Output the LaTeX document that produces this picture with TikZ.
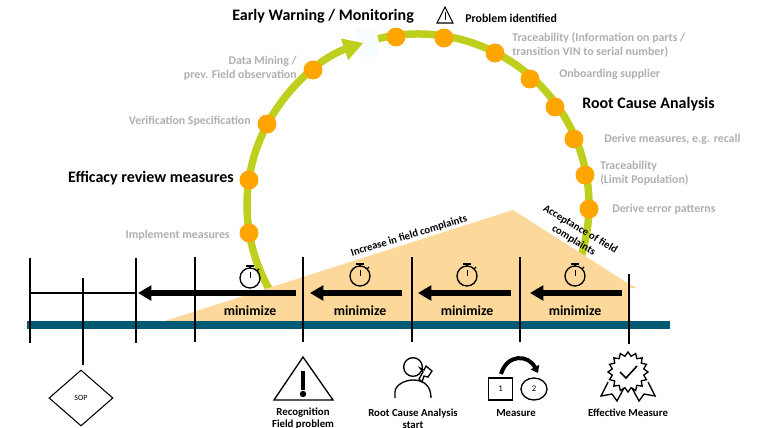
\documentclass[tikz,border=0pt]{standalone}
\usepackage{fontspec}
\setmainfont{Carlito}
\usetikzlibrary{arrows.meta,shapes.geometric}
\definecolor{arcgreen}{HTML}{BFCF1E}
\definecolor{dotorange}{HTML}{FFA500}
\definecolor{barteal}{HTML}{005A73}
\definecolor{wedge}{HTML}{FDD89B}
\definecolor{stepgray}{HTML}{AFAFAF}
\tikzset{
    dot/.style={circle, fill=dotorange, minimum size=14.2pt, inner sep=0pt},
    stepnote/.style={text=stepgray, font=\bfseries\fontsize{8.9}{10.4}\selectfont, align=left, inner sep=0pt},
    phase/.style={text=black, font=\bfseries\fontsize{12}{14}\selectfont, inner sep=0pt},
    caption/.style={font=\bfseries\fontsize{8.1}{9}\selectfont, align=center, inner sep=0pt},
    slope/.style={font=\bfseries\fontsize{8}{9.5}\selectfont, align=center, inner sep=0pt},
    mini/.style={font=\bfseries\fontsize{10.4}{11}\selectfont, inner sep=0pt},
    tick/.style={line width=1.5pt},
    push/.style={line width=3.8pt, -{Triangle[length=10pt,width=11pt]}},
    pics/watch/.style={code={
        \draw[line width=1pt] (0,0) circle[radius=7.5pt];
        \draw[line width=1pt] (0,-10) -- (0,-12);
        \draw[line width=1.2pt] (-4,-12) -- (4,-12);
        \draw[line width=.6pt] (0,0) -- (0,-6);
        \draw[line width=1pt] (7,-7) -- (9,-9);
    }}
}
\begin{document}
\begin{tikzpicture}[x=0.75pt, y=-0.75pt]
    \useasboundingbox (0,0) rectangle (760,428);
    \coordinate (c) at (418,205);
    % Loop
    \fill[blue!20!cyan!3] (356,29) rectangle (378,57);
    \draw[arcgreen, line width=5.6pt, -{Triangle[length=15pt,width=16pt]}]
        ([shift={(212:128.25pt)}]c) arc[start angle=212, end angle=108.6, radius=128.25pt];
    \draw[arcgreen, line width=5.6pt]
        ([shift={(103.5:128.25pt)}]c) arc[start angle=103.5, end angle=-25, radius=128.25pt];
    % Complaints wedge
    \fill[wedge] (165,321) -- (513,210) -- (629,284) -- (637,288) -- (630,288) -- (630,321) -- cycle;
    % Steps on the loop
    \foreach \name/\pos in {a/{249,233}, b/{249,180}, d/{267,124}, e/{313,70}, f/{396,37}, g/{444,38},
        h/{495,53}, i/{530,79}, j/{555,107}, k/{574,139}, l/{585,175}, m/{589,209}}
        \node[dot] (\name) at (\pos) {};
    % Time line
    \fill[barteal] (27,321) rectangle (670,329);
    \draw[tick] (30,258) -- (30,343);
    \draw[tick] (136,258) -- (136,343);
    \draw[tick] (195,257) -- (195,342);
    \draw[line width=1.1pt] (303,257) -- (303,342);
    \draw[tick] (412,257) -- (412,342);
    \draw[tick] (520,257) -- (520,342);
    \draw[tick] (629,274) -- (629,344);
    \draw[tick] (83,278) -- (83,365);
    \draw[tick] (30,293) -- (136,293);
    % Minimize arrows
    \foreach \from/\to in {296/138, 402/310, 511/418, 622/530}
        \draw[push] (\from,293) -- (\to,293);
    \foreach \x/\y in {250/278, 360/276, 467/276, 575/276}
        \pic at (\x,\y) {watch};
    \foreach \x in {250, 360, 467, 575}
        \node[mini] at (\x,311) {minimize};
    % Labels on the loop
    \node[phase, anchor=west] (early) at (232,16) {Early Warning / Monitoring};
    \node[phase, anchor=west] (root) at (582,104) {Root Cause Analysis};
    \node[phase, anchor=east] (efficacy) at (234,178) {Efficacy review measures};
    \node[stepnote, anchor=west] (trace) at (512,45) {Traceability (Information on parts /\\transition VIN to serial number)};
    \node[stepnote, anchor=west] (onboard) at (559,74) {Onboarding supplier};
    \node[stepnote, anchor=west] (recall) at (604,139) {Derive measures, e.g. recall};
    \node[stepnote, anchor=west] (limit) at (600,173) {Traceability\\(Limit Population)};
    \node[stepnote, anchor=west] (errors) at (612,209) {Derive error patterns};
    \node[stepnote, anchor=east, align=right] (mining) at (297,68) {Data Mining /\\prev. Field observation};
    \node[stepnote, anchor=east] (verify) at (251,121) {Verification Specification};
    \node[stepnote, anchor=east] (implement) at (230,235) {Implement measures};
    % Problem identified
    \draw[line width=.8pt, line join=miter] (437,23) -- (445,7) -- (453,23) -- cycle;
    \draw[line width=.6pt] (445,12) -- (445,20);
    \node[caption, font=\bfseries\fontsize{8.9}{10}\selectfont, anchor=west] (problem) at (465,18) {Problem identified};
    % Slope labels
    \node[slope, rotate=17] (increase) at (409,236) {Increase in field complaints};
    \node[slope, rotate=-31] (accept) at (577,235) {Acceptance of field\\complaints};
    % SOP
    \node[diamond, draw, line width=.8pt, minimum width=48pt, minimum height=42pt, inner sep=0pt, font=\fontsize{6}{7}\selectfont] (sop) at (81,398) {SOP};
    % Recognition
    \draw[line width=1pt] (274,400) -- (303,357) -- (333,400) -- cycle;
    \draw[line width=3pt] (303,371) -- (303,390);
    \fill (303,394) circle[radius=2.4pt];
    \node[caption] (recog) at (303,419) {Recognition\\Field problem};
    % Root cause start
    \draw[line width=1pt] (413,367) circle[radius=7pt];
    \draw[line width=1pt] (395,398) -- (395,392) .. controls (395,385) and (405,380) .. (413,380) .. controls (424,380) and (431,386) .. (431,398);
    \draw[line width=1pt, fill=white] (419,379) -- (423,372) -- (420,368) -- (424,370) -- (426,366) -- (432,371) -- (428,377) -- (424,376) -- (422,382) -- cycle;
    \node[caption] (start) at (413,418.5) {Root Cause Analysis\\start};
    % Measure
    \node[draw, line width=1.1pt, minimum width=18pt, minimum height=16.5pt, inner sep=0pt, font=\fontsize{6.5}{7}\selectfont] (one) at (500.5,389) {1};
    \node[draw, ellipse, line width=1pt, minimum width=19.5pt, minimum height=16.5pt, inner sep=0pt, font=\fontsize{6.5}{7}\selectfont] (two) at (534,389) {2};
    \draw[line width=3pt, -{Triangle[length=5pt,width=7pt]}] (501,374) .. controls (507,354) and (528,354) .. (538,373);
    \node[caption] (measure) at (516,413) {Measure};
    % Effective measure
    \node[star, star points=16, star point ratio=1.25, draw, line width=1pt, minimum size=30pt, inner sep=0pt] (seal) at (628,372) {};
    \draw[line width=1.2pt] (620,372) -- (626,378) -- (637,366);
    \draw[line width=1pt] (608,382) -- (601,396) -- (612,394) -- (617,401) -- (624,388);
    \draw[line width=1pt] (648,382) -- (655,396) -- (644,394) -- (639,401) -- (632,388);
    \node[caption] (effective) at (628,413) {Effective Measure};
\end{tikzpicture}
\end{document}
